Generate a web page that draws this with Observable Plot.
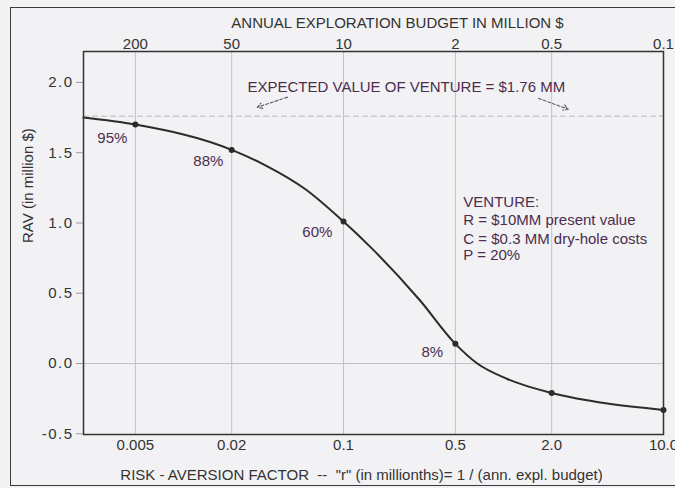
<!DOCTYPE html>
<html><head><meta charset="utf-8">
<script src="https://cdn.jsdelivr.net/npm/d3@7"></script>
<script src="https://cdn.jsdelivr.net/npm/@observablehq/plot@0.6"></script>
<style>
html,body{margin:0;padding:0;background:#f2f2f4;}
#wrap{position:relative;width:675px;height:488px;overflow:hidden;}
#box{position:absolute;left:10px;top:7px;width:720px;height:477px;border:1.5px solid #3a3a3a;pointer-events:none;}
[aria-label$="tick label"] text{letter-spacing:1.5px;}
</style></head><body><div id="wrap"><div id="box"></div></div>
<script>
// curve: risk-aversion factor r vs RAV (million $)
const curveR   = [0.00237, 0.005, 0.02, 0.0325, 0.0578, 0.1, 0.147, 0.3, 0.5, 0.686, 1.057, 2.0, 4.46, 10.0];
const curveRAV = [1.75, 1.70, 1.52, 1.41, 1.24, 1.01, 0.83, 0.45, 0.14, 0.0, -0.11, -0.21, -0.285, -0.33];
const markerR   = [0.005, 0.02, 0.1, 0.5, 2.0, 10.0];
const markerRAV = [1.70, 1.52, 1.01, 0.14, -0.21, -0.33];
const pctLabels = ["95%", "88%", "60%", "8%"];
const pctR      = [0.00359, 0.01429, 0.0686, 0.359];
const pctRAV    = [1.603, 1.439, 0.933, 0.078];
const expectedValue = 1.76;
const xTicks = [0.005, 0.02, 0.1, 0.5, 2.0, 10.0];
const xTickLabels = ["0.005", "0.02", "0.1", "0.5", "2.0", "10.0"];
const budgetTickLabels = ["200", "50", "10", "2", "0.5", "0.1"];
const yTicks = [-0.5, 0, 0.5, 1, 1.5, 2];
const yTickLabels = ["-0.5", "0.0", "0.5", "1.0", "1.5", "2.0"];
const evText = "EXPECTED VALUE OF VENTURE = $1.76 MM";
const evTextPos = {r: 0.247, v: 1.969};
const evArrows = [
  {r1: 0.0446, v1: 1.895, r2: 0.0289, v2: 1.823},
  {r1: 1.65, v1: 1.887, r2: 2.54, v2: 1.809}
];
const ventureLines = ["VENTURE:", "R = $10MM present value", "C = $0.3 MM dry-hole costs", "P = 20%"];
const ventureR = 0.561;
const ventureRAV = [1.147, 1.019, 0.883, 0.769];
const topTitle = "ANNUAL EXPLORATION BUDGET IN MILLION $";
const xTitle = "RISK - AVERSION FACTOR  --  \"r\" (in millionths)= 1 / (ann. expl. budget)";
const yTitle = "RAV (in million $)";

const curve = curveR.map((r, i) => ({r, v: curveRAV[i]}));
const markers = markerR.map((r, i) => ({r, v: markerRAV[i]}));
const pcts = pctLabels.map((t, i) => ({t, r: pctR[i], v: pctRAV[i]}));
const venture = ventureLines.map((t, i) => ({t, r: ventureR, v: ventureRAV[i]}));
const bottomTicks = xTicks.map((r, i) => ({r, t: xTickLabels[i]}));
const topTicks = xTicks.map((r, i) => ({r, t: budgetTickLabels[i]}));
const yLab = new Map(yTicks.map((d, i) => [d, yTickLabels[i]]));

const ink = "#333";
const purple = "#4b2d4f";

const chart = Plot.plot({
  width: 675, height: 488,
  marginLeft: 83, marginRight: 12, marginTop: 51, marginBottom: 54,
  x: {type: "log", domain: [0.00237, 10], axis: null},
  y: {domain: [-0.505, 2.22]},
  style: {background: "transparent", fontFamily: "'Liberation Sans', Arial, sans-serif", fontSize: "15px", color: ink},
  marks: [
    Plot.ruleX(xTicks, {stroke: "#c2c2c6", strokeWidth: 1}),
    Plot.ruleY([0], {stroke: "#c2c2c6", strokeWidth: 1}),
    Plot.ruleY([expectedValue], {stroke: "#bbbbc0", strokeWidth: 1, strokeDasharray: "6,3"}),
    Plot.line(curve, {x: "r", y: "v", curve: "monotone-x", stroke: "#2b2b2b", strokeWidth: 2}),
    Plot.dot(markers, {x: "r", y: "v", r: 3, fill: "#2b2b2b"}),
    Plot.frame({stroke: "#333", strokeWidth: 1.5}),
    Plot.text(bottomTicks, {x: "r", text: "t", frameAnchor: "bottom", dy: 15, fill: ink, fontSize: 15, ariaLabel: "x-bottom tick label"}),
    Plot.text(topTicks, {x: "r", text: "t", frameAnchor: "top", dy: -13, fill: ink, fontSize: 15, ariaLabel: "x-top tick label"}),
    Plot.axisY({ticks: yTicks, tickFormat: d => yLab.get(d), tickSize: 7, tickPadding: 3, stroke: "#9a9a9e", fill: ink, label: null, fontSize: 15}),
    Plot.text([topTitle], {frameAnchor: "top", dx: 24, dy: -34, fill: ink, fontSize: 15}),
    Plot.text([xTitle], {frameAnchor: "bottom", dx: -12, dy: 45, fill: ink, fontSize: 15}),
    Plot.text([yTitle], {frameAnchor: "left", dx: -55, rotate: -90, fill: ink, fontSize: 15}),
    Plot.text([evText], {x: () => evTextPos.r, y: () => evTextPos.v, fill: purple, fontSize: 15}),
    Plot.arrow(evArrows, {x1: "r1", y1: "v1", x2: "r2", y2: "v2", stroke: "#66666c", strokeWidth: 1.2, headLength: 7, strokeDasharray: "3,2"}),
    Plot.text(pcts, {x: "r", y: "v", text: "t", fill: purple, fontSize: 15}),
    Plot.text(venture, {x: "r", y: "v", text: "t", textAnchor: "start", fill: purple, fontSize: 15})
  ]
});
document.getElementById("wrap").prepend(chart);
chart.style.position = "absolute"; chart.style.left = "0"; chart.style.top = "0";
</script></body></html>
